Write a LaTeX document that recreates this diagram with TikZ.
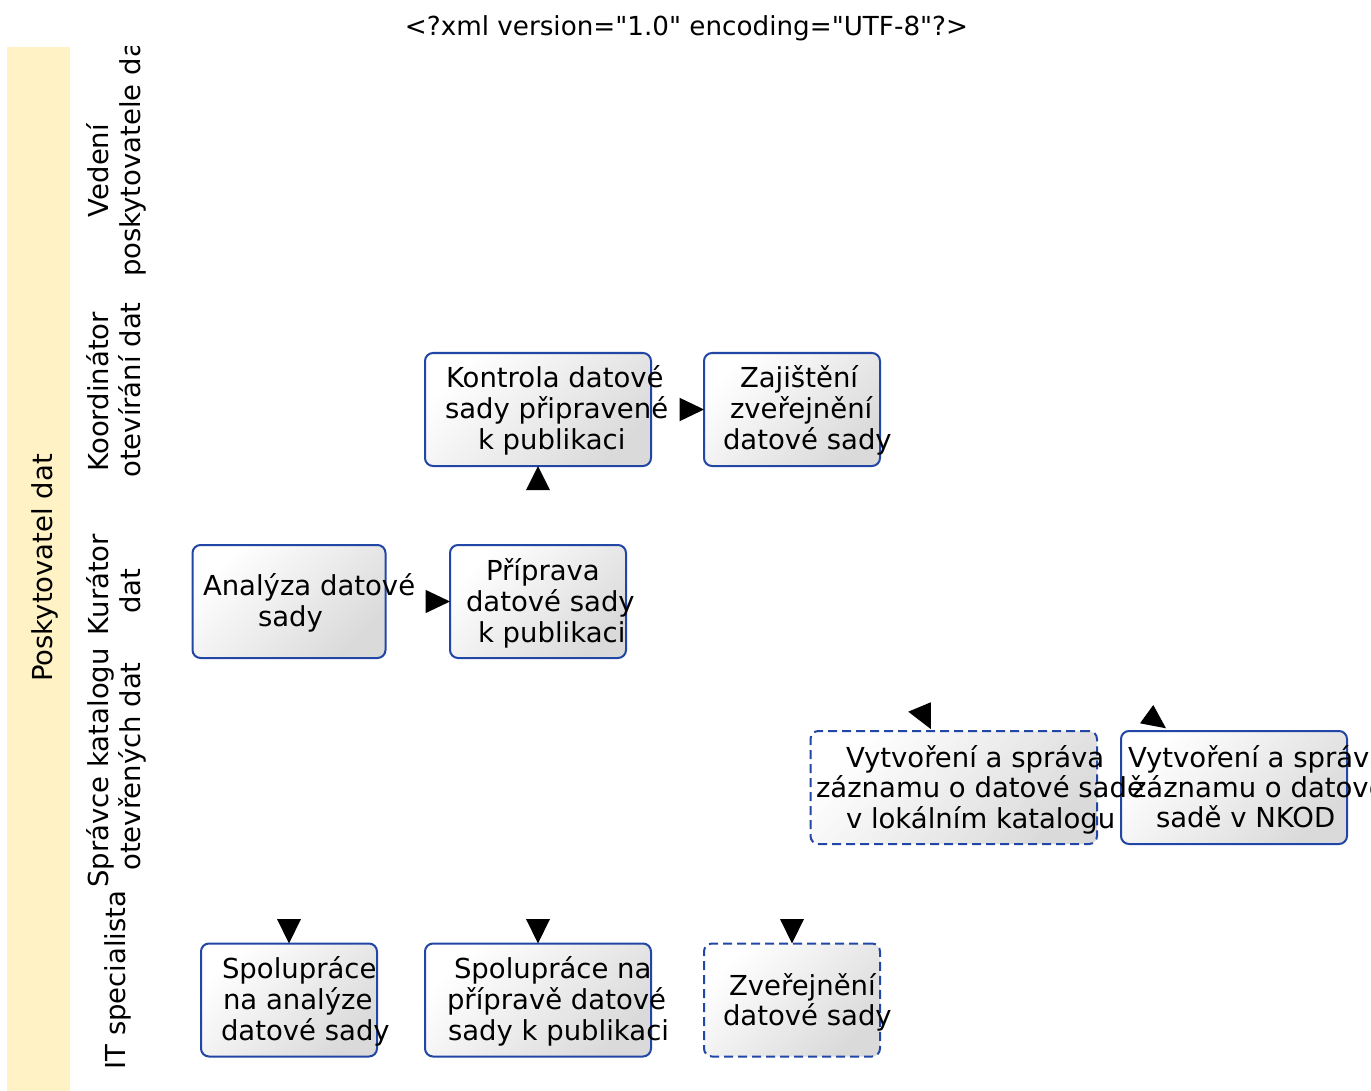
\documentclass[tikz,border=0pt]{standalone}
\usepackage{fontspec}
\setmainfont{DejaVu Sans}
\newfontfamily\rawfont{DejaVu Sans}[Ligatures=TeXOff]
\definecolor{taskblue}{RGB}{33,70,165}
\definecolor{taskgrey}{RGB}{218,218,218}
\definecolor{poolyellow}{RGB}{255,242,196}
\begin{document}
\begin{tikzpicture}[x=1pt,y=-1pt,
  every node/.style={inner sep=0pt, outer sep=0pt},
  task/.style={draw=taskblue, line width=2pt, rounded corners=8pt,
    top color=white, bottom color=taskgrey, shading angle=45,
    minimum height=113pt},
  dashedtask/.style={task, dash pattern=on 9pt off 5pt},
  tl/.style={anchor=base west, font=\fontsize{27.5}{31}\selectfont},
  lane/.style={rotate=90, anchor=base, font=\fontsize{27.5}{31}\selectfont},
  head/.style={fill=black}]
\useasboundingbox (0,0) rectangle (1371,1091);

% title
\node[anchor=base, font=\rawfont\fontsize{26.2}{30}\selectfont] (title) at (686.5,36) {<?xml version="1.0" encoding="UTF-8"?>};

% pool band
\fill[poolyellow] (7,47) rectangle (70,1091);
\node[lane] (pool) at (52,568) {Poskytovatel dat};

% lane labels
\begin{scope}
\clip (0,47) rectangle (300,1091);
\node[lane] (l1a) at (108,170.5) {Vedení};
\node[lane, anchor=base west] (l1b) at (140,277) {poskytovatele dat};
\end{scope}
\node[lane] (l2a) at (108,391.7) {Koordinátor};
\node[lane] (l2b) at (140,390) {otevírání dat};
\node[lane] (l3a) at (108,584.5) {Kurátor};
\node[lane] (l3b) at (140,591) {dat};
\node[lane] (l4a) at (108,768) {Správce katalogu};
\node[lane] (l4b) at (140,766.5) {otevřených dat};
\node[lane] (l5) at (125,980) {IT specialista};

% tasks
\node[task, minimum width=226pt] (kon) at (538,409.5) {};
\node[task, minimum width=176pt] (zaj) at (792,409.5) {};
\node[task, minimum width=193pt] (ana) at (289,601.5) {};
\node[task, minimum width=176pt] (pri) at (538,601.5) {};
\node[dashedtask, minimum width=286.5pt] (lok) at (953.75,787.5) {};
\node[task, minimum width=226pt] (nkod) at (1234,787.5) {};
\node[task, minimum width=176pt] (spa) at (289,1000) {};
\node[task, minimum width=226pt] (spp) at (538,1000) {};
\node[dashedtask, minimum width=176pt] (zve) at (792,1000) {};

% task texts
\node[tl] (kon1) at (446,387) {Kontrola datové};
\node[tl] (kon2) at (445,418) {sady připravené};
\node[tl] (kon3) at (478,449) {k publikaci};

\node[tl] (zaj1) at (740,387) {Zajištění};
\node[tl] (zaj2) at (730,418) {zveřejnění};
\node[tl] (zaj3) at (723,449) {datové sady};

\node[tl] (ana1) at (203,595) {Analýza datové};
\node[tl] (ana2) at (258,626) {sady};

\node[tl] (pri1) at (486,580) {Příprava};
\node[tl] (pri2) at (466,611) {datové sady};
\node[tl] (pri3) at (478,642) {k publikaci};

\node[tl] (lok1) at (846,767) {Vytvoření a správa};
\node[tl] (lok2) at (816,797) {záznamu o datové sadě};
\node[tl] (lok3) at (846,828) {v lokálním katalogu};

\node[tl] (nkod1) at (1128,767) {Vytvoření a správa};
\node[tl] (nkod2) at (1132,797) {záznamu o datové};
\node[tl] (nkod3) at (1156,827) {sadě v NKOD};

\node[tl] (spa1) at (222,978) {Spolupráce};
\node[tl] (spa2) at (223,1009) {na analýze};
\node[tl] (spa3) at (221,1040) {datové sady};

\node[tl] (spp1) at (454,978) {Spolupráce na};
\node[tl] (spp2) at (447,1009) {přípravě datové};
\node[tl] (spp3) at (448,1040) {sady k publikaci};

\node[tl] (zve1) at (729,995) {Zveřejnění};
\node[tl] (zve2) at (723,1025) {datové sady};

% arrowheads (connector lines are not shown)
\fill[head] (zaj.west) -- ++(-24.5,-11.8) -- ++(0,23.6) -- cycle;
\fill[head] (kon.south) -- ++(-12,24.2) -- ++(24,0) -- cycle;
\fill[head] (pri.west) -- ++(-24.5,-11.7) -- ++(0,23.4) -- cycle;
\fill[head] ([shift={(-45.5,-19.3)}]lok.north) -- ([shift={(-23,-28.7)}]lok.north) -- ([shift={(-23,-2)}]lok.north) -- cycle;
\fill[head] ([shift={(-94,-7.7)}]nkod.north) -- ([shift={(-80.7,-26)}]nkod.north) -- ([shift={(-68,-2.7)}]nkod.north) -- cycle;
\fill[head] (spa.north) -- ++(-12,-24.5) -- ++(24,0) -- cycle;
\fill[head] (spp.north) -- ++(-12,-24.5) -- ++(24,0) -- cycle;
\fill[head] (zve.north) -- ++(-12,-24.5) -- ++(24,0) -- cycle;
\end{tikzpicture}
\end{document}
